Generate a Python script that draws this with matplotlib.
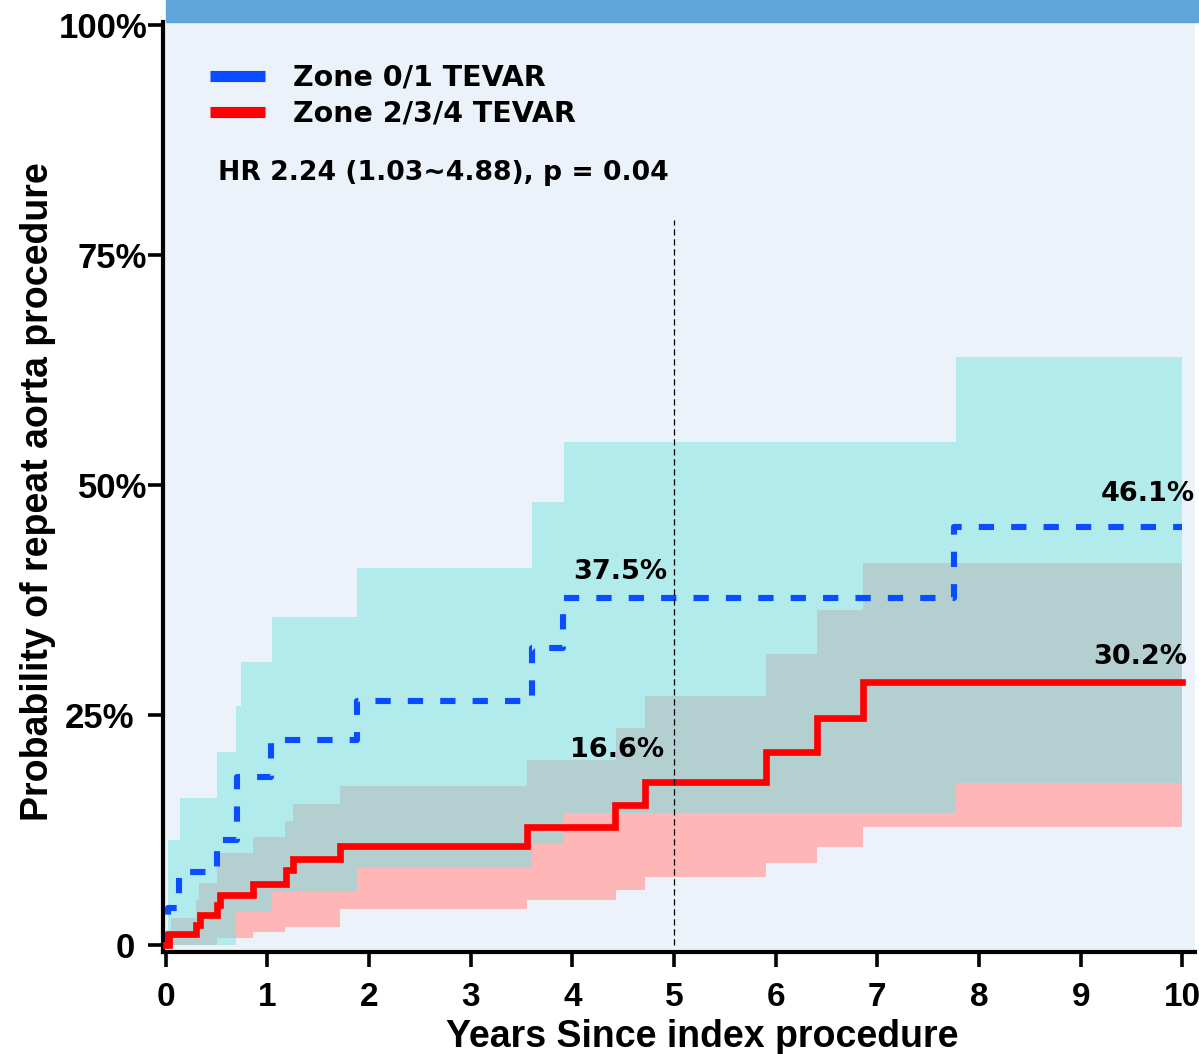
import numpy as np
import matplotlib
matplotlib.use("Agg")
import matplotlib.pyplot as plt
from matplotlib.patches import Rectangle
from matplotlib.lines import Line2D

# ---------------- data ----------------
blue_t = [0, 0.02, 0.13, 0.50, 0.70, 1.04, 1.88, 3.60, 3.91, 7.75, 10.0]
blue_y = [0, 4.0, 7.9, 11.4, 18.3, 22.3, 26.5, 32.3, 37.7, 45.4, 45.4]

red_t = [0, 0.03, 0.30, 0.34, 0.50, 0.53, 0.86, 1.18, 1.25, 1.71, 3.55, 4.42, 4.71, 5.90, 6.41, 6.86, 10.0]
red_y = [0, 1.2, 2.2, 3.3, 4.3, 5.4, 6.6, 8.2, 9.3, 10.8, 12.8, 15.2, 17.7, 21.0, 24.7, 28.6, 28.6]

cyan_t = [0.02, 0.14, 0.50, 0.69, 0.74, 1.05, 1.88, 3.60, 3.92, 7.77, 10.0]
cyan_lo = [0, 0, 0, 3.6, 3.6, 5.8, 8.4, 11.0, 14.3, 17.6, 17.6]
cyan_hi = [11.4, 16.0, 21.0, 26.0, 30.8, 35.7, 41.0, 48.2, 54.7, 63.9, 63.9]

pink_t = [0.05, 0.30, 0.33, 0.50, 0.86, 1.17, 1.25, 1.71, 3.55, 4.43, 4.71, 5.90, 6.41, 6.86, 10.0]
pink_lo = [0, 0, 0, 0.8, 1.4, 2.0, 2.0, 3.9, 4.9, 6.0, 7.4, 8.9, 10.7, 12.8, 12.8]
pink_hi = [2.9, 4.9, 6.7, 10.0, 11.7, 13.5, 15.3, 17.3, 20.1, 23.6, 27.1, 31.6, 36.4, 41.5, 41.5]

series_names = ["Zone 0/1 TEVAR", "Zone 2/3/4 TEVAR"]
hr_text = "HR 2.24 (1.03~4.88), p = 0.04"
annot_text = ["37.5%", "16.6%", "46.1%", "30.2%"]
annot_x = [4.47, 4.44, 9.66, 9.59]
annot_y = [40.5, 21.2, 49.0, 31.3]
xticks = list(range(0, 11))
yticks = [0, 25, 50, 75, 100]
ytick_labels = ["0", "25%", "50%", "75%", "100%"]

# ---------------- style ----------------
BG = "#EBF2FA"
CYAN = "#B2EBEB"
PINK = "#FFB6B6"
GREY = "#B4CFCF"
BLUE = "#0A4CFF"
RED = "#FF0000"
HEADER = "#5FA5D9"
ANN_FONT = ["DejaVu Sans"]
AX_FONT = ["Liberation Sans", "DejaVu Sans"]

W, H = 1199, 1054
fig = plt.figure(figsize=(W / 100, H / 100), dpi=100)
L, R, T, B = 163, 1195, 22, 952
ax = fig.add_axes([L / W, 1 - B / H, (R - L) / W, (B - T) / H])
ax.set_facecolor(BG)

# header bar above the plotting area
fig.patches.append(Rectangle((166 / W, 1 - 22 / H), 1 - 166 / W, 22 / H,
                             transform=fig.transFigure, color=HEADER, zorder=0))

ax.set_xlim(-0.027, 10.125)
ax.set_ylim(-0.76, 100.33)


def step_eval(tq, t, v):
    t = np.asarray(t)
    v = np.asarray(v)
    idx = np.clip(np.searchsorted(t, tq, side="right") - 1, 0, len(t) - 1)
    return v[idx]


# confidence bands
ax.fill_between(cyan_t, cyan_lo, cyan_hi, step="post", color=CYAN, lw=0, zorder=1)
ax.fill_between(pink_t, pink_lo, pink_hi, step="post", color=PINK, lw=0, zorder=2)
# overlap of the two bands
grid = np.union1d(cyan_t, pink_t)
grid = grid[grid >= max(cyan_t[0], pink_t[0])]
lo = np.maximum(step_eval(grid, cyan_t, cyan_lo), step_eval(grid, pink_t, pink_lo))
hi = np.minimum(step_eval(grid, cyan_t, cyan_hi), step_eval(grid, pink_t, pink_hi))
hi = np.maximum(hi, lo)
ax.fill_between(grid, lo, hi, step="post", color=GREY, lw=0, zorder=3)

# curves
ax.step(blue_t, blue_y, where="post", color=BLUE, lw=4.4, dashes=(2.5, 2.8),
        dash_capstyle="butt", zorder=5)
ax.step(red_t, red_y, where="post", color=RED, lw=4.8, zorder=6,
        solid_joinstyle="miter")

# 5-year reference line
ax.vlines(5, 0, 78.8, colors="black", lw=0.9, linestyles=(0, (5, 3)), zorder=7)

# annotations
for s, x, y in zip(annot_text, annot_x, annot_y):
    ax.text(x, y, s, ha="center", va="center", fontsize=19.5, fontweight="bold",
            family=ANN_FONT, zorder=8)

ax.text(0.51, 83.9, hr_text, ha="left", va="center", fontsize=19.2,
        fontweight="bold", family=ANN_FONT, zorder=8)

handles = [Line2D([], [], color=BLUE, lw=8, solid_capstyle="butt"),
           Line2D([], [], color=RED, lw=8, solid_capstyle="butt")]
leg = ax.legend(handles, series_names, loc="upper left",
                bbox_to_anchor=((210 - L) / (R - L), (B - 64) / (B - T)),
                frameon=False,
                prop={"family": ANN_FONT, "size": 20.5, "weight": "bold"},
                handlelength=1.93, handletextpad=0.98, labelspacing=0.27,
                borderaxespad=0, borderpad=0)

# axes styling
for side in ["top", "right"]:
    ax.spines[side].set_visible(False)
for side in ["left", "bottom"]:
    ax.spines[side].set_linewidth(3)

ax.set_xticks(xticks)
ax.set_xticklabels([str(v) for v in xticks])
ax.set_yticks(yticks)
ax.set_yticklabels(ytick_labels)
ax.tick_params(axis="both", direction="out", length=10.5, width=2.6, color="black")
ax.tick_params(axis="x", labelsize=24, pad=11)
ax.tick_params(axis="y", labelsize=25, pad=1)
for lab in ax.get_xticklabels() + ax.get_yticklabels():
    lab.set_fontweight("bold")
    lab.set_family(AX_FONT)
for i, tk in enumerate(ax.yaxis.get_major_ticks()):
    if i < 2:
        tk.set_pad(10)

ax.set_xlabel("Years Since index procedure", fontsize=27, fontweight="bold",
              family=AX_FONT)
ax.set_ylabel("Probability of repeat aorta procedure", fontsize=27,
              fontweight="bold", family=AX_FONT)
ax.xaxis.set_label_coords((702 - L) / (R - L), -(1019 - B) / (B - T))
ax.yaxis.set_label_coords(-(L - 56) / (R - L), (B - 492) / (B - T))

fig.savefig("out.png", dpi=100, facecolor="white")
